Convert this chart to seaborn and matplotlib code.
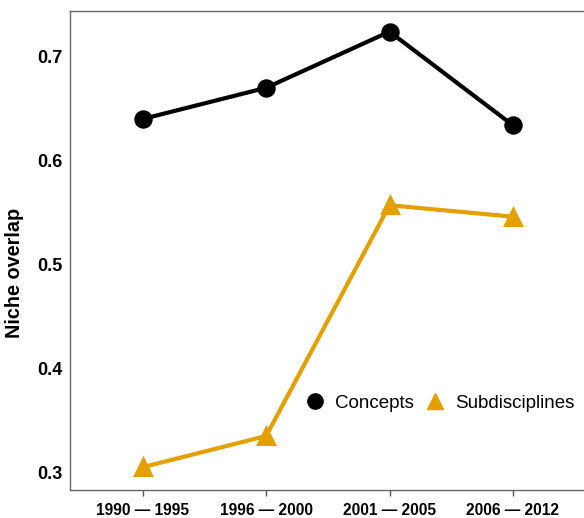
import numpy as np
import matplotlib.pyplot as plt
import pandas as pd
import seaborn as sns
from matplotlib.lines import Line2D

periods = ['1990 — 1995', '1996 — 2000', '2001 — 2005', '2006 — 2012']
concepts = [0.640, 0.670, 0.724, 0.634]
subdisciplines = [0.305, 0.335, 0.557, 0.546]
groups = ['Concepts', 'Subdisciplines']
colors = ['#000000', '#E69F00']

df = pd.DataFrame({
    'period': periods * 2,
    'overlap': concepts + subdisciplines,
    'type': [groups[0]] * 4 + [groups[1]] * 4,
})

sns.set_style('white')
plt.rcParams['font.family'] = ['Liberation Sans', 'DejaVu Sans']
plt.rcParams['text.color'] = 'black'
plt.rcParams['xtick.color'] = 'black'
plt.rcParams['ytick.color'] = 'black'

fig = plt.figure(figsize=(5.84, 5.18), dpi=100)
ax = fig.add_axes([0.1199, 0.054, 0.885, 0.925])

sns.pointplot(data=df, x='period', y='overlap', hue='type', order=periods,
              hue_order=groups, palette=colors, markers=['o', '^'],
              linestyles=['-', '-'], errorbar=None, ax=ax,
              markersize=11, linewidth=3)

ax.set_xlim(-0.59, 3.6)
ax.set_ylim(0.283, 0.744)
ax.set_yticks([0.3, 0.4, 0.5, 0.6, 0.7])
ax.set_yticklabels(['0.3', '0.4', '0.5', '0.6', '0.7'])
ax.set_xlabel('')
ax.set_ylabel('Niche overlap', fontsize=14.3, fontweight='bold', color='black')
ax.yaxis.set_label_coords(-0.09, 0.453)

for lab in ax.get_xticklabels():
    lab.set_fontweight('bold')
    lab.set_fontsize(11.2)
for lab in ax.get_yticklabels():
    lab.set_fontweight('bold')
    lab.set_fontsize(13)

ax.tick_params(axis='x', length=4, width=1, color='#555555', pad=5, bottom=True)
ax.tick_params(axis='y', length=0, pad=5.5)

for s in ['left', 'bottom', 'top']:
    ax.spines[s].set_color('#666666')
    ax.spines[s].set_linewidth(1)
ax.spines['right'].set_visible(False)

if ax.get_legend() is not None:
    ax.get_legend().remove()
handles = [Line2D([], [], color=colors[0], marker='o', linestyle='none', markersize=11),
           Line2D([], [], color=colors[1], marker='^', linestyle='none', markersize=11)]
fig.legend(handles, groups, loc='center', bbox_to_anchor=(0.752, 0.222), ncol=2,
           frameon=False, fontsize=13.5, handletextpad=0.45, columnspacing=0.55,
           handlelength=1.2)

fig.savefig('out.png', dpi=100)
